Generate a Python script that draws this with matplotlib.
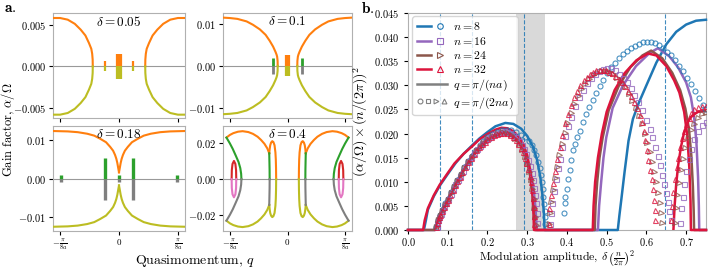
import numpy as np
import matplotlib
matplotlib.use('Agg')
import matplotlib.pyplot as plt
from matplotlib.lines import Line2D
from matplotlib.legend_handler import HandlerTuple

plt.rcParams['font.family'] = 'serif'
plt.rcParams['font.serif'] = ['cmr10']
plt.rcParams['mathtext.fontset'] = 'cm'
plt.rcParams['axes.formatter.use_mathtext'] = True
plt.rcParams['axes.edgecolor'] = '#b0b0b0'
plt.rcParams['xtick.labelsize'] = 7.5
plt.rcParams['ytick.labelsize'] = 7.5
plt.rcParams['xtick.major.size'] = 3
plt.rcParams['ytick.major.size'] = 3

# ---------------- panel a data (right half; q in units of pi/(8a)) ----------------
# delta = 0.05
d05_x = [0.445, 0.447, 0.455, 0.47, 0.51, 0.57, 0.65, 0.75, 0.87, 1.0, 1.12]
d05_y = [0.0, 0.0008, 0.0015, 0.0021, 0.0028, 0.0037, 0.0044, 0.0051, 0.0056, 0.0058, 0.0058]
d05_bub_x = [-0.23, -0.04, 0.0, 0.04, 0.23]
d05_bub_h = [0.0006, 0.0015, 0.0015, 0.0015, 0.0006]

# delta = 0.1
d10_x = [0.17, 0.172, 0.18, 0.19, 0.21, 0.25, 0.31, 0.38, 0.48, 0.6, 0.71, 0.87, 1.0, 1.12]
d10_y = [0.0, 0.0012, 0.0022, 0.0027, 0.0034, 0.0046, 0.006, 0.0074, 0.0087, 0.0098, 0.0106, 0.0112, 0.0114, 0.0115]
d10_bub_x = [-0.25, 0.25]
d10_bub_h = [0.0019, 0.0019]
d10_ctr_x = [-0.03, 0.0, 0.03]
d10_ctr_h = [0.0025, 0.0025, 0.0025]

# delta = 0.18
d18_x = [0.0, 0.005, 0.012, 0.028, 0.045, 0.067, 0.1, 0.15, 0.22, 0.32, 0.42, 0.54, 0.7, 0.87, 1.12]
d18_y = [0.0017, 0.0021, 0.0027, 0.0041, 0.0052, 0.0062, 0.0073, 0.0083, 0.0095, 0.0104, 0.0112, 0.0117, 0.0121, 0.0123, 0.0124]
d18_bub_x = [-0.98, -0.24, 0.0, 0.24, 0.98]
d18_bub_h = [0.0009, 0.0055, 0.0009, 0.0055, 0.0009]

# delta = 0.4
d40_arc_x = [0.317, 0.35, 0.40, 0.46, 0.52, 0.6, 0.68, 0.78, 0.86, 0.94, 1.0, 1.06]
d40_arc_y = [0.0145, 0.0172, 0.0198, 0.022, 0.0238, 0.0254, 0.0264, 0.0269, 0.0266, 0.0258, 0.0248, 0.0233]
d40_out_x = [1.06, 1.0, 0.95, 0.9, 0.85, 0.82, 0.805, 0.80]
d40_out_y = [0.0233, 0.02, 0.0169, 0.0133, 0.0096, 0.0062, 0.003, 0.0]
d40_loop_x = [0.197, 0.199, 0.203, 0.21, 0.225, 0.245, 0.265, 0.285, 0.30, 0.31, 0.317]
d40_loop_y = [0.0, 0.006, 0.011, 0.015, 0.019, 0.0208, 0.0213, 0.0205, 0.019, 0.0168, 0.0145]
d40_in_x = [0.317, 0.314, 0.311, 0.31]
d40_in_y = [0.0145, 0.01, 0.005, 0.0]
d40_bub_x = [0.89, 0.893, 0.905, 0.93, 0.955, 0.967, 0.97]
d40_bub_y = [0.0, 0.005, 0.0085, 0.0102, 0.0085, 0.005, 0.0]

# ---------------- panel b data ----------------
# solid lines, q = pi/(na)
s8_x = [0.0, 0.04, 0.045, 0.05, 0.065, 0.08, 0.10, 0.12, 0.14, 0.162, 0.18, 0.20, 0.22, 0.245, 0.265, 0.285,
        0.30, 0.315, 0.325, 0.333, 0.338, 0.342, 0.344, 0.528, 0.532, 0.537, 0.545, 0.555, 0.566, 0.58, 0.60,
        0.625, 0.65, 0.675, 0.70, 0.725, 0.75]
s8_y = [0.0, 0.0, 0.002, 0.0042, 0.007, 0.0092, 0.0116, 0.0139, 0.0158, 0.0176, 0.019, 0.0203, 0.0215, 0.0222,
        0.022, 0.021, 0.0195, 0.0172, 0.0145, 0.011, 0.0075, 0.0035, 0.0, 0.0, 0.003, 0.0064, 0.012, 0.0185,
        0.023, 0.0262, 0.030, 0.0347, 0.0385, 0.0411, 0.0426, 0.0434, 0.0436]
s16_x = [0.0, 0.068, 0.072, 0.08, 0.10, 0.13, 0.162, 0.20, 0.235, 0.26, 0.28, 0.295, 0.308, 0.316, 0.321, 0.324,
         0.478, 0.481, 0.486, 0.492, 0.499, 0.515, 0.541, 0.574, 0.608, 0.629, 0.658, 0.68, 0.70, 0.712, 0.72,
         0.726, 0.73, 0.732, 0.733, 0.75]
s16_y = [0.0, 0.0, 0.0015, 0.0032, 0.0065, 0.0112, 0.0157, 0.019, 0.0205, 0.02, 0.0185, 0.016, 0.0125, 0.0085,
         0.0045, 0.0, 0.0, 0.005, 0.0098, 0.015, 0.0192, 0.0253, 0.030, 0.034, 0.0367, 0.0377, 0.036, 0.0337,
         0.0306, 0.0275, 0.0235, 0.018, 0.011, 0.005, 0.0, 0.0]
s24_x = [0.0, 0.068, 0.072, 0.08, 0.10, 0.13, 0.162, 0.20, 0.235, 0.26, 0.28, 0.295, 0.306, 0.313, 0.318, 0.32,
         0.47, 0.472, 0.476, 0.482, 0.49, 0.505, 0.53, 0.56, 0.59, 0.612, 0.64, 0.665, 0.685, 0.698, 0.707,
         0.713, 0.717, 0.719, 0.72, 0.75]
s24_y = [0.0, 0.0, 0.0014, 0.003, 0.0062, 0.0109, 0.0153, 0.0186, 0.0201, 0.0196, 0.018, 0.0155, 0.012, 0.008,
         0.004, 0.0, 0.0, 0.005, 0.0098, 0.015, 0.0192, 0.0248, 0.0298, 0.0338, 0.0362, 0.0372, 0.0356, 0.0326,
         0.029, 0.0252, 0.021, 0.0155, 0.009, 0.004, 0.0, 0.0]
s32_x = [0.0, 0.038, 0.042, 0.05, 0.065, 0.08, 0.10, 0.117, 0.14, 0.162, 0.18, 0.20, 0.22, 0.235, 0.25, 0.265,
         0.28, 0.29, 0.30, 0.308, 0.313, 0.316, 0.317, 0.465, 0.467, 0.471, 0.478, 0.488, 0.50, 0.52, 0.545,
         0.575, 0.604, 0.625, 0.65, 0.67, 0.683, 0.695, 0.703, 0.708, 0.711, 0.712, 0.75]
s32_y = [0.0, 0.0, 0.002, 0.0045, 0.0072, 0.0094, 0.0118, 0.0138, 0.0158, 0.0174, 0.0188, 0.0199, 0.0208, 0.0212,
         0.0211, 0.0205, 0.0192, 0.0178, 0.0155, 0.012, 0.0075, 0.003, 0.0, 0.0, 0.005, 0.01, 0.015, 0.02,
         0.0245, 0.029, 0.0325, 0.0352, 0.0366, 0.0362, 0.034, 0.031, 0.0285, 0.0245, 0.0195, 0.013, 0.006,
         0.0, 0.0]
s32b_x = [0.668, 0.671, 0.675, 0.68, 0.687, 0.695, 0.705, 0.715, 0.73, 0.75]
s32b_y = [0.0, 0.005, 0.0095, 0.0135, 0.0172, 0.0203, 0.0225, 0.0237, 0.0245, 0.0247]

# markers, q = pi/(2na)
m8_x = [0.071, 0.075, 0.08, 0.087, 0.094, 0.1, 0.108, 0.116, 0.124, 0.133, 0.142, 0.151, 0.16, 0.17, 0.18,
        0.19, 0.2, 0.212, 0.224, 0.236, 0.248, 0.26, 0.272, 0.284, 0.295, 0.305, 0.312, 0.318, 0.323, 0.327,
        0.331, 0.334, 0.337, 0.339, 0.341, 0.343, 0.344, 0.345, 0.346,
        0.393, 0.394, 0.396, 0.399, 0.403, 0.407, 0.411, 0.415, 0.42, 0.426, 0.432, 0.44, 0.448, 0.456, 0.465,
        0.474, 0.483, 0.492, 0.502, 0.512, 0.522, 0.532, 0.542, 0.552, 0.562, 0.572, 0.582, 0.592, 0.602,
        0.612, 0.622, 0.632, 0.642, 0.652, 0.662, 0.672, 0.682, 0.692, 0.702, 0.712, 0.722, 0.732, 0.742, 0.748]
m8_y = [0.0006, 0.002, 0.0032, 0.0044, 0.0055, 0.0065, 0.0079, 0.0092, 0.0104, 0.0117, 0.013, 0.0143, 0.0154,
        0.0166, 0.0176, 0.0185, 0.0192, 0.0199, 0.0204, 0.0207, 0.0208, 0.0207, 0.0204, 0.0198, 0.0192, 0.0184,
        0.0176, 0.0166, 0.0155, 0.0142, 0.0128, 0.0114, 0.0099, 0.0084, 0.0069, 0.0054, 0.004, 0.0026, 0.0012,
        0.0035, 0.0057, 0.0068, 0.0085, 0.0105, 0.0125, 0.0145, 0.0165, 0.0178, 0.0193, 0.0206, 0.0224, 0.024,
        0.0255, 0.027, 0.0285, 0.0299, 0.0312, 0.0325, 0.0337, 0.0347, 0.0356, 0.0364, 0.0371, 0.0377, 0.0382,
        0.0386, 0.0389, 0.039, 0.0389, 0.0387, 0.0383, 0.0377, 0.037, 0.0362, 0.0352, 0.0341, 0.0329, 0.0316,
        0.0302, 0.0288, 0.0273, 0.0259, 0.025]
m16_x = [0.072, 0.074, 0.076, 0.079, 0.082, 0.086, 0.091, 0.096, 0.101, 0.107, 0.113, 0.119, 0.125, 0.131,
         0.138, 0.145, 0.152, 0.159, 0.166, 0.173, 0.18, 0.187, 0.194, 0.201, 0.209, 0.217, 0.225, 0.233, 0.241,
         0.249, 0.257, 0.265, 0.273, 0.28, 0.287, 0.293, 0.298, 0.303, 0.307, 0.311, 0.315, 0.318, 0.32, 0.322,
         0.324, 0.325,
         0.358, 0.36, 0.363, 0.367, 0.372, 0.377, 0.382, 0.388, 0.395, 0.402, 0.41, 0.42, 0.43, 0.44, 0.45,
         0.46, 0.47, 0.48, 0.49, 0.50, 0.51, 0.52, 0.53, 0.54, 0.55, 0.56, 0.57, 0.58, 0.59, 0.60, 0.608, 0.615,
         0.622, 0.628, 0.634, 0.64, 0.645, 0.65, 0.654, 0.658, 0.661,
         0.685, 0.688, 0.691, 0.695, 0.70, 0.706, 0.712, 0.72, 0.73, 0.74, 0.75]
m16_y = [0.0006, 0.0014, 0.0021, 0.0027, 0.0033, 0.0041, 0.0049, 0.0057, 0.0065, 0.0075, 0.0085, 0.0095, 0.0104,
         0.0112, 0.0123, 0.0133, 0.0143, 0.0152, 0.016, 0.0168, 0.0175, 0.0181, 0.0186, 0.0191, 0.0195, 0.0199,
         0.0202, 0.0204, 0.0205, 0.0204, 0.0202, 0.0198, 0.0192, 0.0185, 0.0176, 0.0167, 0.0157, 0.0145, 0.0133,
         0.0119, 0.0104, 0.0088, 0.0072, 0.0055, 0.0035, 0.0014,
         0.0012, 0.0035, 0.0055, 0.008, 0.0105, 0.0128, 0.0148, 0.0172, 0.0195, 0.0215, 0.0235, 0.0257, 0.0275,
         0.0291, 0.0305, 0.0315, 0.0324, 0.033, 0.0334, 0.0336, 0.0335, 0.0331, 0.0324, 0.0316, 0.0306, 0.0294,
         0.028, 0.0265, 0.0248, 0.0228, 0.021, 0.0192, 0.0172, 0.0153, 0.0134, 0.0114, 0.0096, 0.0077, 0.0058,
         0.004, 0.002,
         0.0014, 0.0045, 0.0068, 0.0095, 0.0122, 0.0148, 0.0168, 0.0188, 0.0206, 0.0218, 0.0225]
m24_x = [0.071, 0.075, 0.08, 0.086, 0.093, 0.1, 0.108, 0.116, 0.124, 0.133, 0.142, 0.151, 0.16, 0.17, 0.18,
         0.19, 0.2, 0.212, 0.224, 0.236, 0.248, 0.26, 0.27, 0.279, 0.287, 0.294, 0.3, 0.305, 0.309, 0.313,
         0.316, 0.318, 0.32, 0.321,
         0.356, 0.358, 0.361, 0.365, 0.37, 0.375, 0.381, 0.387, 0.394, 0.401, 0.409, 0.418, 0.427, 0.436,
         0.445, 0.455, 0.465, 0.475, 0.485, 0.495, 0.505, 0.515, 0.525, 0.535, 0.545, 0.555, 0.565, 0.574,
         0.582, 0.589, 0.596, 0.602, 0.608, 0.614, 0.62, 0.625, 0.63, 0.634, 0.638, 0.64,
         0.672, 0.675, 0.678, 0.682, 0.687, 0.692, 0.698, 0.705, 0.712, 0.72, 0.73, 0.74, 0.75]
m24_y = [0.0006, 0.002, 0.003, 0.004, 0.0052, 0.0063, 0.0076, 0.009, 0.0102, 0.0115, 0.0128, 0.0141, 0.0152,
         0.0163, 0.0173, 0.0181, 0.0188, 0.0195, 0.02, 0.0203, 0.0202, 0.0197, 0.0189, 0.0179, 0.0166, 0.0152,
         0.0137, 0.012, 0.0103, 0.0084, 0.0064, 0.0045, 0.0026, 0.001,
         0.0012, 0.0035, 0.0058, 0.0083, 0.0108, 0.013, 0.0155, 0.0178, 0.0202, 0.0222, 0.0242, 0.0262, 0.0278,
         0.0292, 0.0303, 0.0313, 0.0321, 0.0326, 0.0329, 0.033, 0.0328, 0.0323, 0.0316, 0.0307, 0.0296, 0.0283,
         0.0268, 0.0252, 0.0236, 0.0219, 0.02, 0.0181, 0.0162, 0.0142, 0.012, 0.0099, 0.0077, 0.0056, 0.0035,
         0.0015,
         0.0015, 0.0045, 0.0072, 0.0098, 0.0125, 0.0148, 0.017, 0.019, 0.0207, 0.022, 0.0233, 0.024, 0.0243]
m32_x = [0.071, 0.073, 0.075, 0.078, 0.081, 0.085, 0.09, 0.095, 0.1, 0.106, 0.112, 0.118, 0.124, 0.13, 0.137,
         0.144, 0.151, 0.158, 0.165, 0.172, 0.179, 0.186, 0.193, 0.2, 0.208, 0.216, 0.224, 0.232, 0.24, 0.248,
         0.256, 0.264, 0.271, 0.278, 0.284, 0.289, 0.294, 0.298, 0.302, 0.306, 0.309, 0.312, 0.314, 0.316,
         0.317, 0.318,
         0.354, 0.356, 0.36, 0.365, 0.37, 0.376, 0.382, 0.388, 0.395, 0.402, 0.41, 0.418, 0.426, 0.434, 0.442,
         0.45, 0.458, 0.466, 0.474, 0.482, 0.49, 0.498, 0.506, 0.514, 0.522, 0.53, 0.538, 0.546, 0.554, 0.562,
         0.57, 0.577, 0.583, 0.588, 0.593, 0.597, 0.601, 0.605, 0.609, 0.613, 0.616, 0.619, 0.621, 0.622,
         0.662, 0.665, 0.668, 0.672, 0.676, 0.68, 0.685, 0.69, 0.695, 0.70, 0.706, 0.712, 0.72, 0.73, 0.74, 0.75]
m32_y = [0.0006, 0.0014, 0.002, 0.0026, 0.0032, 0.004, 0.0048, 0.0056, 0.0063, 0.0073, 0.0083, 0.0093, 0.0102,
         0.011, 0.0121, 0.0131, 0.0141, 0.015, 0.0158, 0.0165, 0.0172, 0.0178, 0.0183, 0.0188, 0.0192, 0.0196,
         0.0199, 0.0201, 0.0202, 0.0201, 0.0198, 0.0193, 0.0187, 0.0179, 0.017, 0.0161, 0.015, 0.0139, 0.0127,
         0.0113, 0.0099, 0.0082, 0.0066, 0.0048, 0.003, 0.0012,
         0.0012, 0.0045, 0.0072, 0.0098, 0.0122, 0.0148, 0.0172, 0.0196, 0.0222, 0.024, 0.026, 0.0275, 0.0289,
         0.0301, 0.0311, 0.0318, 0.0324, 0.0328, 0.0331, 0.0332, 0.0332, 0.0331, 0.0328, 0.0325, 0.032, 0.0314,
         0.0307, 0.0298, 0.0288, 0.0277, 0.0265, 0.0252, 0.0238, 0.0224, 0.0205, 0.0186, 0.0165, 0.0145, 0.0125,
         0.0105, 0.0085, 0.0063, 0.0042, 0.002,
         0.002, 0.005, 0.0078, 0.0105, 0.013, 0.015, 0.0172, 0.019, 0.0206, 0.022, 0.0232, 0.0242, 0.025,
         0.0256, 0.0258, 0.0258]

dash_x = [0.08, 0.162, 0.292, 0.647]
band = [0.273, 0.345]

n_labels = [r'$n=8$', r'$n=16$', r'$n=24$', r'$n=32$']
n_colors = ['#1f77b4', '#9467bd', '#8c564b', 'crimson']
n_marks = ['o', 's', '>', '^']

C_OR, C_OL, C_GR, C_GY, C_RD, C_PK = '#ff7f0e', '#bcbd22', '#2ca02c', '#7f7f7f', '#d62728', '#e377c2'

fig = plt.figure(figsize=(7.1, 2.7), dpi=100)
W, H = 710, 270


def box(l, t, r, b):
    return [l / W, 1 - b / H, (r - l) / W, (b - t) / H]


ax_tl = fig.add_axes(box(53, 13, 185, 118))
ax_tr = fig.add_axes(box(223, 13, 352, 118))
ax_bl = fig.add_axes(box(53, 126, 185, 231))
ax_br = fig.add_axes(box(223, 126, 352, 231))
axb = fig.add_axes(box(408, 13, 706, 230))


def quad(ax, x, y, c_up, c_dn, lw=1.5):
    # curve is symmetric in q and in the sign of the gain
    x = np.asarray(x)
    y = np.asarray(y)
    for sx in (1, -1):
        ax.plot(sx * x, y, color=c_up, lw=lw, zorder=3)
        ax.plot(sx * x, -y, color=c_dn, lw=lw, zorder=3)


def bubbles(ax, x, h, c_up, c_dn, lw=2.0):
    ax.vlines(x, 0, h, color=c_up, lw=lw, zorder=2)
    ax.vlines(x, -np.asarray(h), 0, color=c_dn, lw=lw, zorder=2)


quad(ax_tl, d05_x, d05_y, C_OR, C_OL)
bubbles(ax_tl, d05_bub_x, d05_bub_h, C_OR, C_OL, lw=1.6)

quad(ax_tr, d10_x, d10_y, C_OR, C_OL)
bubbles(ax_tr, d10_bub_x, d10_bub_h, C_GR, C_GY)
bubbles(ax_tr, d10_ctr_x, d10_ctr_h, C_OR, C_OL, lw=1.6)

bubbles(ax_bl, d18_bub_x, d18_bub_h, C_GR, C_GY, lw=2.4)
quad(ax_bl, d18_x, d18_y, C_OR, C_OL)

quad(ax_br, d40_arc_x, d40_arc_y, C_OR, C_OL)
quad(ax_br, d40_loop_x, d40_loop_y, C_OR, C_OL)
quad(ax_br, d40_out_x, d40_out_y, C_GR, C_GY)
quad(ax_br, d40_in_x, d40_in_y, C_GR, C_GY)
quad(ax_br, d40_bub_x, d40_bub_y, C_RD, C_PK)

panels = [(ax_tl, 0.05, [-0.005, 0, 0.005], (-0.0062, 0.0064)),
          (ax_tr, 0.1, [-0.01, 0, 0.01], (-0.0124, 0.0126)),
          (ax_bl, 0.18, [-0.01, 0, 0.01], (-0.0135, 0.0137)),
          (ax_br, 0.4, [-0.02, 0, 0.02], (-0.0291, 0.0298))]
for ax, d, yt, yl in panels:
    ax.axhline(0, color='#999999', lw=0.8, zorder=1)
    ax.set_xlim(-1.12, 1.12)
    ax.set_ylim(*yl)
    ax.set_yticks(yt)
    ax.set_xticks([-1, 0, 1])
    ax.tick_params(axis='y', pad=2)
    ax.text(0.5, 0.985, r'$\delta = %g$' % d, transform=ax.transAxes, ha='center', va='top', fontsize=9.5)
for ax in (ax_tl, ax_tr):
    ax.set_xticklabels([])
for ax in (ax_bl, ax_br):
    ax.set_xticklabels([r'$-\frac{\pi}{8a}$', r'$0$', r'$\frac{\pi}{8a}$'], fontsize=6.5)
    ax.tick_params(axis='x', pad=1.5)

fig.text(0.0115, 0.52, r'Gain factor, $\alpha/\Omega$', rotation=90, ha='center', va='center', fontsize=9)
fig.text(0.275, 0.032, r'Quasimomentum, $q$', ha='center', va='center', fontsize=10)
fig.text(0.006, 0.97, r'$\mathbf{a.}$', ha='left', va='center', fontsize=11)
fig.text(0.508, 0.97, r'$\mathbf{b.}$', ha='left', va='center', fontsize=11)

# ---------------- panel b ----------------
axb.axvspan(band[0], band[1], color='#d9d9d9', lw=0, zorder=0)
for xv in dash_x:
    axb.axvline(xv, color='#1f77b4', ls='--', lw=0.8, alpha=0.85, zorder=1)

solids = [(s8_x, s8_y), (s16_x, s16_y), (s24_x, s24_y), (s32_x, s32_y)]
marks = [(m8_x, m8_y), (m16_x, m16_y), (m24_x, m24_y), (m32_x, m32_y)]
for (sx, sy), (mx, my), c, m in zip(solids, marks, n_colors, n_marks):
    axb.plot(sx, sy, color=c, lw=1.8, zorder=3, clip_on=False)
    axb.plot(mx, my, ls='none', marker=m, ms=3.6, mew=0.8, mfc='none', mec=c, alpha=0.8, zorder=4)
axb.plot(s32b_x, s32b_y, color='crimson', lw=1.8, zorder=3)

axb.set_xlim(0, 0.75)
axb.set_ylim(0, 0.045)
axb.set_yticks(np.arange(0, 0.0451, 0.005))
axb.set_xticks(np.arange(0, 0.71, 0.1))
axb.tick_params(axis='x', pad=1.5)
fig.text(557 / W, 0.004, r'Modulation amplitude, $\delta\,\left(\frac{n}{2\pi}\right)^2$',
         ha='center', va='bottom', fontsize=8.5)
axb.set_ylabel(r'$(\alpha/\Omega)\times(n/(2\pi))^2$', fontsize=10, labelpad=3)

handles = []
for c, m in zip(n_colors, n_marks):
    handles.append((Line2D([], [], color=c, lw=1.8),
                    Line2D([], [], color=c, marker=m, ls='none', mfc='none', ms=4, mew=0.8)))
handles.append(Line2D([], [], color='grey', lw=1.8))
handles.append(tuple(Line2D([], [], color='grey', marker=m, ls='none', mfc='none', ms=3.5, mew=0.8)
                     for m in n_marks))
labels = n_labels + [r'$q=\pi/(na)$', r'$q=\pi/(2na)$']
axb.legend(handles, labels, handler_map={tuple: HandlerTuple(ndivide=None, pad=0.1)},
           loc='upper left', bbox_to_anchor=(0.015, 0.985), borderaxespad=0, fontsize=8.5,
           labelspacing=0.2, handlelength=2.6, handletextpad=0.5, borderpad=0.35)

fig.savefig('out.png', dpi=100)
